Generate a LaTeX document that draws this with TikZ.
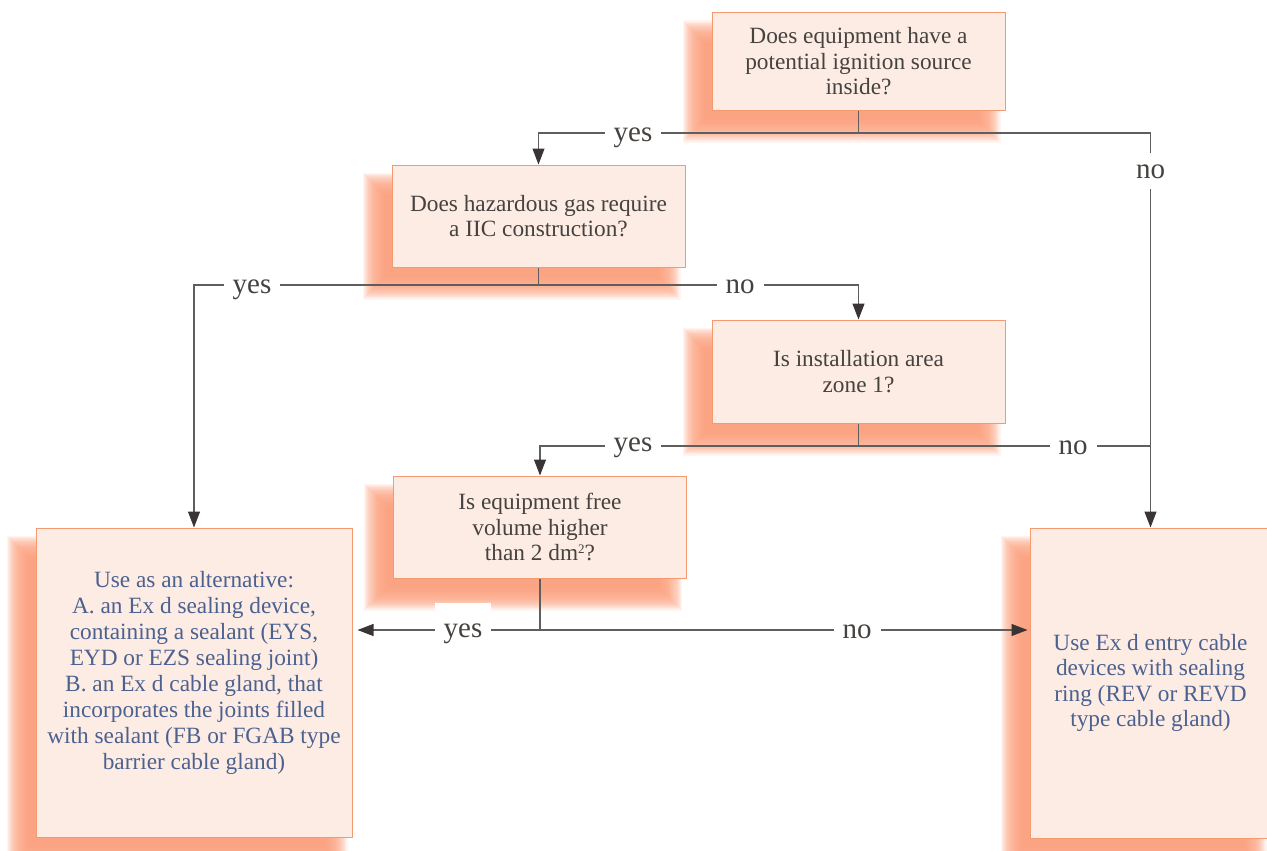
\documentclass[tikz,border=0pt]{standalone}
\usepackage{fontspec}
\setmainfont{Liberation Serif}
\usetikzlibrary{arrows.meta,calc}
\definecolor{boxfill}{HTML}{FDECE3}
\definecolor{boxline}{HTML}{F49A73}
\definecolor{shadowc}{HTML}{FB9C78}
\definecolor{qtext}{HTML}{45423F}
\definecolor{atext}{HTML}{4B6190}
\definecolor{linec}{HTML}{5E5E5E}
\definecolor{arrowc}{HTML}{3A3434}
\pgfdeclarelayer{bg}
\pgfsetlayers{bg,main}
\newcommand{\softshadow}[1]{%
  \begin{pgfonlayer}{bg}
  \foreach \k in {0,...,21}{%
    \fill[shadowc, fill opacity=0.11]
      ($(#1.north west)+(-17-12+\k*1.09, 20-12+\k*1.09)$) rectangle
      ($(#1.south east)+(-17+12-\k*1.09, 20+12-\k*1.09)$);
  }
  \end{pgfonlayer}}
\newcommand{\supfig}[1]{\raisebox{7.5pt}{\fontsize{13}{13}\selectfont #1}}
\begin{document}
\begin{tikzpicture}[x=1pt,y=-1pt,
  box/.style={draw=boxline, line width=1pt, fill=boxfill, inner sep=0pt, align=center,
    font=\fontsize{23.3}{25.5}\selectfont},
  qbox/.style={box, text=qtext},
  abox/.style={box, text=atext},
  conn/.style={draw=linec, line width=1.1pt},
  arr/.style={conn, -{Triangle[length=16pt,width=12pt,color=arrowc]}},
  lbl/.style={fill=white, text=qtext, font=\fontsize{29}{32}\selectfont,
    anchor=base, inner xsep=9pt, inner ysep=12pt, text height=22pt, text depth=8pt}]
\useasboundingbox (0,0) rectangle (1267,851);

\node[qbox, minimum width=293pt, minimum height=97pt] (A) at (858.5,61.5)
  {Does equipment have a\\potential ignition source\\inside?};
\node[qbox, minimum width=293pt, minimum height=102pt] (B) at (538.5,216)
  {Does hazardous gas require\\a IIC construction?};
\node[qbox, minimum width=293pt, minimum height=103pt] (C) at (858.5,371.5)
  {Is installation area\\zone 1?};
\node[qbox, minimum width=293pt, minimum height=102pt] (F) at (540,527)
  {Is equipment free\\volume higher\\than 2 dm\supfig{2}?};
\node[abox, minimum width=316pt, minimum height=309pt] (D) at (194,682.5) {};
\node[align=center, text=atext, inner sep=0pt, font=\fontsize{23.3}{26}\selectfont] (Dtext) at (194,673)
  {Use as an alternative:\\A. an Ex d sealing device,\\containing a sealant (EYS,\\EYD or EZS sealing joint)\\B. an Ex d cable gland, that\\incorporates the joints filled\\with sealant (FB or FGAB type\\barrier cable gland)};
\node[abox, minimum width=241pt, minimum height=310pt] (E) at (1150.5,683)
  {Use Ex d entry cable\\devices with sealing\\ring (REV or REVD\\type cable gland)};

\softshadow{A}
\softshadow{B}
\softshadow{C}
\softshadow{F}
\softshadow{D}
\softshadow{E}

\coordinate (jA) at (858.5,133);
\coordinate (jB) at (538.5,285);
\coordinate (jC) at (858.5,446);
\coordinate (jE) at (1150.5,446);
\coordinate (jF) at (540,630);

\draw[conn] (A.south) -- (jA);
\draw[arr] (jA) -| (B.north);
\draw[arr] (jA) -| (E.north);
\draw[conn] (B.south) -- (jB);
\draw[arr] (jB) -| (D.north);
\draw[arr] (jB) -| (C.north);
\draw[conn] (C.south) -- (jC);
\draw[arr] (jC) -| (F.north);
\draw[conn] (jC) -- (jE);
\draw[conn] (F.south) -- (jF);
\draw[arr, shorten >=5pt] (jF) -- (D.east |- jF);
\draw[arr, shorten >=2pt] (jF) -- (E.west |- jF);

\node[lbl] (yA) at (633,141) {yes};
\node[lbl, inner ysep=3pt] (nA) at (1150.5,178) {no};
\node[lbl] (yB) at (252,293) {yes};
\node[lbl] (nB) at (740,293) {no};
\node[lbl] (yC) at (633,451) {yes};
\node[lbl] (nC) at (1073,454) {no};
\node[lbl] (yF) at (463,637) {yes};
\node[lbl] (nF) at (857,638) {no};
\end{tikzpicture}
\end{document}
